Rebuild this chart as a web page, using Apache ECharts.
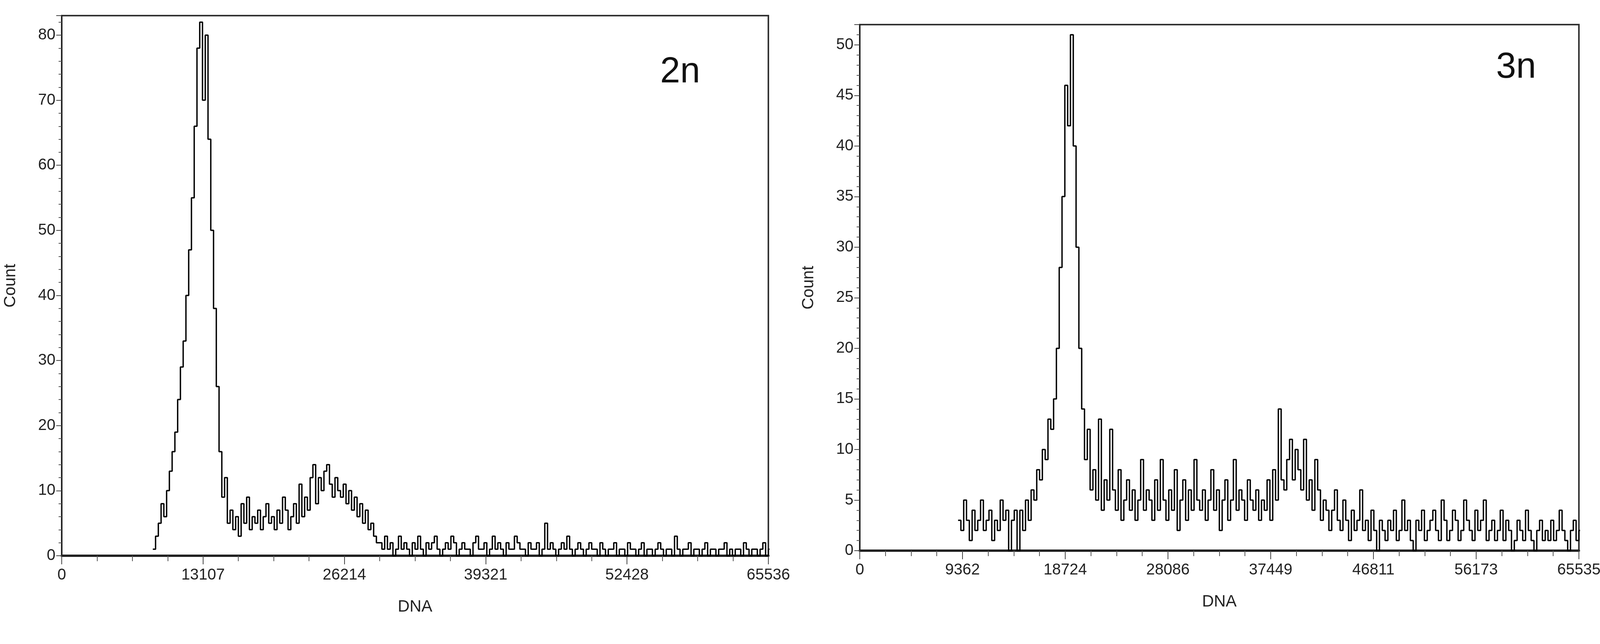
<!DOCTYPE html>
<html><head><meta charset="utf-8">
<script src="https://cdn.jsdelivr.net/npm/echarts@6/dist/echarts.min.js"></script>
<style>html,body{margin:0;padding:0;background:#fff}#c{width:4124px;height:1649px}</style>
</head><body><div id="c"></div>
<script>
// Channel width in DNA units
const channelWidth = 256;
// 2n histogram: counts from channel 33 onward
const start2n = 33;
const counts2n = [
1,3,5,8,6,10,13,16,
19,24,29,33,40,47,55,66,78,
82,70,80,64,
50,38,26,16,9,
12,5,7,4,6,3,8,5,9,4,6,5,
7,4,6,8,5,6,4,7,5,9,
7,4,6,8,5,11,6,9,7,12,
14,8,12,10,13,14,11,9,12,10,
9,11,8,10,7,9,6,8,5,7,
4,5,3,2,2,1,
3,1,2,0,1,3,1,2,1,0,2,1,3,1,0,2,1,2,3,1,0,1,2,1,3,2,0,1,2,1,
1,0,2,3,1,1,2,0,1,3,1,2,1,0,2,1,1,3,2,1,1,0,2,1,1,2,0,1,5,1,
2,1,0,1,2,1,3,1,0,1,2,1,0,1,2,1,1,0,2,1,0,1,1,2,0,1,1,0,2,1,
1,0,1,2,0,1,1,0,1,2,1,0,1,1,0,3,1,0,1,1,2,0,1,1,0,1,2,0,1,1,
0,1,1,2,0,1,0,1,1,0,2,1,0,1,1,0,1,2,0,1,0,1,1,0,1,0,2,0,1,0,
1,0,1,2,0,0,1,0,1,0,1,0,0,1,0,0,2,0,1,0,1,0,0
];
// 3n histogram: counts from channel 35 onward
const start3n = 35;
const counts3n = [
3,2,5,3,1,4,2,3,5,2,3,4,1,3,2,5,3,4,0,3,4,
0,4,2,5,3,6,
5,8,7,10,9,13,12,
15,20,28,35,46,42,51,40,30,20,14,9,12,6,
8,5,13,4,7,5,12,6,4,8,3,5,7,4,6,3,5,9,4,6,
5,3,7,4,9,5,3,6,4,8,2,5,7,3,6,4,9,5,4,6,
3,5,8,4,6,2,5,7,3,5,9,4,6,5,3,7,5,4,6,3,
5,4,7,3,
8,5,14,7,6,9,11,7,10,8,6,11,5,7,4,9,6,3,5,4,
2,4,6,3,2,5,3,1,4,2,3,6,2,3,1,4,2,0,3,2,
1,3,2,4,1,2,5,2,3,1,0,3,2,4,1,2,3,4,2,1,
5,3,1,2,4,3,1,2,5,3,2,1,4,2,3,5,1,2,3,1,
2,4,1,3,2,0,1,3,2,1,4,2,1,0,2,3,1,2,1,3,
1,2,4,2,1,0,2,3,1,2,1,0,2,1,3,2,1,0,2,1,1,3,2,2
];
const ticks2n = [0,13107,26214,39321,52428,65536];
const ticks3n = [0,9362,18724,28086,37449,46811,56173,65535];

function toPts(start, arr){ return arr.map((v,i)=>[(start+i)*channelWidth, v]); }

const font = "'Liberation Sans Narrow','Liberation Sans',Arial,sans-serif";
const lbl = {color:'#222', fontSize:40, fontFamily:font};
function xAx(idx, ticks, max){
  return {gridIndex:idx, type:'value', min:0, max:max, interval:ticks[1],
    name:'DNA', nameLocation:'middle', nameGap:110,
    nameTextStyle:{color:'#222', fontSize:42, fontFamily:font},
    axisLine:{lineStyle:{color:'#222', width:6}},
    axisTick:{length:22, lineStyle:{color:'#444', width:2}},
    minorTick:{show:true, splitNumber:4, length:14, lineStyle:{color:'#555', width:2}},
    splitLine:{show:false},
    axisLabel:Object.assign({margin:30, showMaxLabel:true, formatter:v=>String(ticks[Math.round(v/ticks[1])] ?? v)}, lbl)};
}
function yAx(idx, max, interval){
  return {gridIndex:idx, type:'value', min:0, max:max, interval:interval,
    name:'Count', nameLocation:'middle', nameGap:110, nameRotate:90,
    nameTextStyle:{color:'#222', fontSize:42, fontFamily:font},
    axisLine:{show:true, lineStyle:{color:'#222', width:3}},
    axisTick:{show:true, length:14, lineStyle:{color:'#444', width:2}},
    minorTick:{show:true, splitNumber:5, length:8, lineStyle:{color:'#555', width:2}},
    splitLine:{show:false},
    axisLabel:Object.assign({margin:16, showMaxLabel:false}, lbl)};
}
const chart = echarts.init(document.getElementById('c'));
chart.setOption({
  backgroundColor:'#fff',
  animation:false,
  grid:[
    {left:158, right:2157, top:40, bottom:226, show:true, borderColor:'#333', borderWidth:4},
    {left:2201, right:82, top:63, bottom:239, show:true, borderColor:'#333', borderWidth:4}
  ],
  xAxis:[xAx(0,ticks2n,65536), xAx(1,ticks3n,65535)],
  yAxis:[yAx(0,83,10), yAx(1,52,5)],
  graphic:[
    {type:'text', left:1690, top:140, style:{text:'2n', fontSize:92, fontFamily:font, fill:'#111'}},
    {type:'text', left:3830, top:128, style:{text:'3n', fontSize:92, fontFamily:font, fill:'#111'}}
  ],
  series:[
    {type:'line', xAxisIndex:0, yAxisIndex:0, step:'end', showSymbol:false, data:toPts(start2n,counts2n),
      lineStyle:{color:'#000', width:3.5}},
    {type:'line', xAxisIndex:1, yAxisIndex:1, step:'end', showSymbol:false, data:toPts(start3n,counts3n),
      lineStyle:{color:'#000', width:3.5}}
  ]
});
</script></body></html>
